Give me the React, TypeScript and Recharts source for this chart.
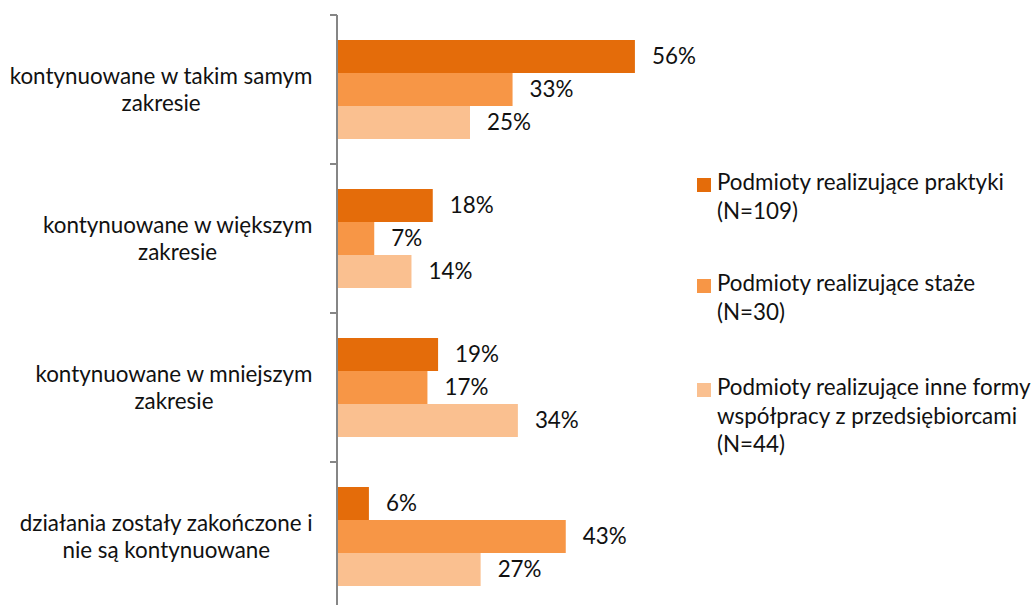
import React from "react";
import { BarChart, Bar, XAxis, YAxis, LabelList } from "recharts";

const categories = [
  "kontynuowane w takim samym\nzakresie",
  "kontynuowane w większym\nzakresie",
  "kontynuowane w mniejszym\nzakresie",
  "działania zostały zakończone i\nnie są kontynuowane",
];
const seriesNames = [
  "Podmioty realizujące praktyki\n(N=109)",
  "Podmioty realizujące staże\n(N=30)",
  "Podmioty realizujące inne formy\nwspółpracy z przedsiębiorcami\n(N=44)",
];
const praktyki = [56, 18, 19, 6];
const staze = [33, 7, 17, 43];
const inne = [25, 14, 34, 27];
const colors = ["#E46C0A", "#F79646", "#FAC090"];

const data = categories.map((c, i) => ({ name: c, s1: praktyki[i], s2: staze[i], s3: inne[i] }));

const FONT = "Lato, 'Open Sans', sans-serif";
const W = 1035;
const H = 620;
const M = { top: 15, right: 166, bottom: 9, left: 0 };
const BAND = (H - M.top - M.bottom) / categories.length;
const TICK_MARGIN = 24;
const FS = 22.4;

let ctx: CanvasRenderingContext2D | null = null;
function measure(t: string) {
  if (!ctx) {
    const c = document.createElement("canvas");
    ctx = c.getContext("2d");
  }
  if (!ctx) return t.length * FS * 0.5;
  ctx.font = `${FS}px Lato`;
  return ctx.measureText(t).width;
}

const CatTick = (props: any) => {
  const { x, y, payload } = props;
  const lines: string[] = String(payload.value).split("\n");
  const maxW = Math.max(...lines.map(measure));
  const cx = x - maxW / 2;
  const lh = 27;
  const startY = y - ((lines.length - 1) * lh) / 2;
  const axisX = x + TICK_MARGIN;
  const topY = y - BAND / 2;
  return (
    <g>
      <line x1={axisX - 7} x2={axisX} y1={topY} y2={topY} stroke="#868686" strokeWidth={2} />
      <text x={cx} y={startY} textAnchor="middle" fontFamily={FONT} fontSize={FS} fill="#111">
        {lines.map((l, i) => (
          <tspan key={i} x={cx} y={startY + i * lh} dy="0.35em">
            {l}
          </tspan>
        ))}
      </text>
    </g>
  );
};

const LegendBlock = () => (
  <div style={{ position: "absolute", left: 697, top: 168, width: 335, fontFamily: FONT, fontSize: FS, color: "#111" }}>
    {seriesNames.map((n, i) => (
      <div key={i} style={{ position: "relative", paddingLeft: 20, lineHeight: "28.5px", whiteSpace: "pre-line", marginBottom: i === 0 ? 44 : 47 }}>
        <span style={{ position: "absolute", left: 0, top: 10, width: 14, height: 14, background: colors[i] }} />
        {n}
      </div>
    ))}
  </div>
);

export default function App() {
  return (
    <div style={{ position: "absolute", left: 0, top: 0, width: W, height: 605, overflow: "hidden", background: "#fff" }}>
      <BarChart width={W} height={H} data={data} layout="vertical" margin={M} barCategoryGap="16.8%" barGap={0}>
        <XAxis type="number" domain={[0, 100]} hide />
        <YAxis
          type="category"
          dataKey="name"
          width={337}
          axisLine={{ stroke: "#868686", strokeWidth: 2 }}
          tickLine={false}
          tickSize={0}
          tickMargin={TICK_MARGIN}
          tick={<CatTick />}
          interval={0}
        />
        {["s1", "s2", "s3"].map((k, i) => (
          <Bar key={k} dataKey={k} name={seriesNames[i]} fill={colors[i]} isAnimationActive={false}>
            <LabelList dataKey={k} position="right" offset={17} formatter={(v: any) => `${v}%`} fill="#111" fontSize={FS} fontFamily={FONT} />
          </Bar>
        ))}
      </BarChart>
      <LegendBlock />
    </div>
  );
}
